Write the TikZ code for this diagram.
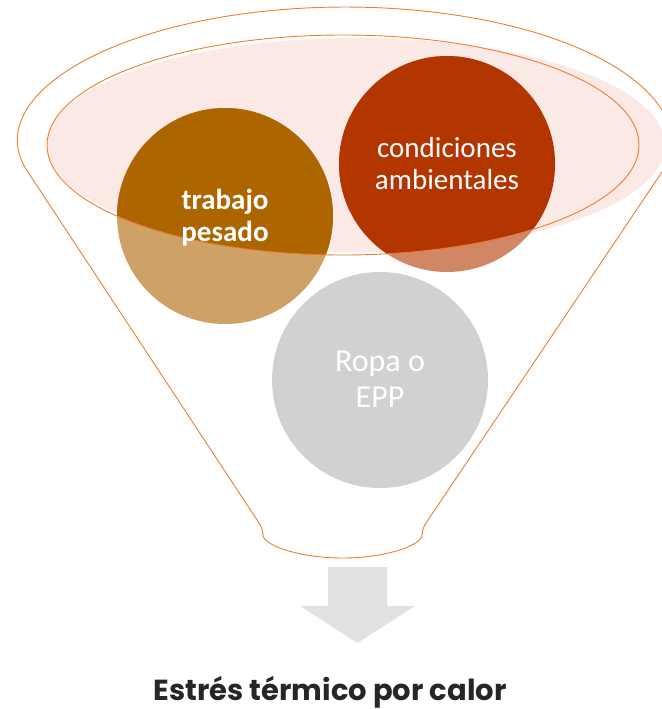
\documentclass[tikz,border=0pt]{standalone}
\usepackage{fontspec}
\setmainfont{Carlito}
\newfontfamily\titlefont{Poppins}
\definecolor{trabD}{RGB}{173,101,0}
\definecolor{trabL}{RGB}{206,161,102}
\definecolor{condD}{RGB}{179,53,0}
\definecolor{condL}{RGB}{209,134,102}
\definecolor{grayC}{RGB}{208,209,211}
\definecolor{pinkF}{RGB}{251,233,229}
\definecolor{orangeL}{RGB}{237,125,49}
\definecolor{arrowC}{RGB}{225,226,228}
\definecolor{titleC}{RGB}{38,38,38}
\tikzset{
  outline/.style={draw=orangeL, line width=0.9pt},
  circtext/.style={circle, minimum size=216, inner sep=0pt, align=center},
}
\begin{document}
\begin{tikzpicture}[x=1pt,y=-1pt]
\useasboundingbox (0,0) rectangle (661,709);
% pink glow of the funnel mouth
\fill[pinkF] (356,145) ellipse [x radius=309, y radius=107];
% circles, light part (seen through the funnel body)
\fill[trabL] (225,216) circle (108);
\fill[condL] (447,164) circle (108);
\fill[grayC] (380,380) circle (108);
% darker part inside the mouth
\begin{scope}
  \clip (343,145) ellipse [x radius=296, y radius=110];
  \fill[trabD] (225,216) circle (108);
  \fill[condD] (447,164) circle (108);
\end{scope}
% mouth outline
\draw[outline] (343,145) ellipse [x radius=296, y radius=110];
% funnel outline
\draw[outline, rounded corners=6pt] (23.3,165)
  arc[start angle=170.7, end angle=369.3, x radius=326, y radius=136]
  -- (422,529)
  arc[start angle=0, end angle=180, x radius=79.5, y radius=29]
  -- cycle;
% circle labels
\node[circtext, text=white, font=\bfseries\fontsize{29}{32}\selectfont] (trab) at (225,218) {trabajo\\pesado};
\node[circtext, text=white, font=\fontsize{29}{32}\selectfont] (cond) at (447,164) {condiciones\\ambientales};
\node[circtext, text=white, font=\fontsize{32}{36}\selectfont] (ropa) at (380,379) {Ropa o\\EPP};
% down arrow
\fill[arrowC] (328,567) -- (387,567) -- (387,606) -- (415,606) -- (357.5,643)
  -- (300,606) -- (328,606) -- cycle;
% result
\node[anchor=base, text=titleC, font=\titlefont\bfseries\fontsize{29}{34}\selectfont, inner sep=0pt] (res) at (330,700) {Estrés térmico por calor};
\end{tikzpicture}
\end{document}
